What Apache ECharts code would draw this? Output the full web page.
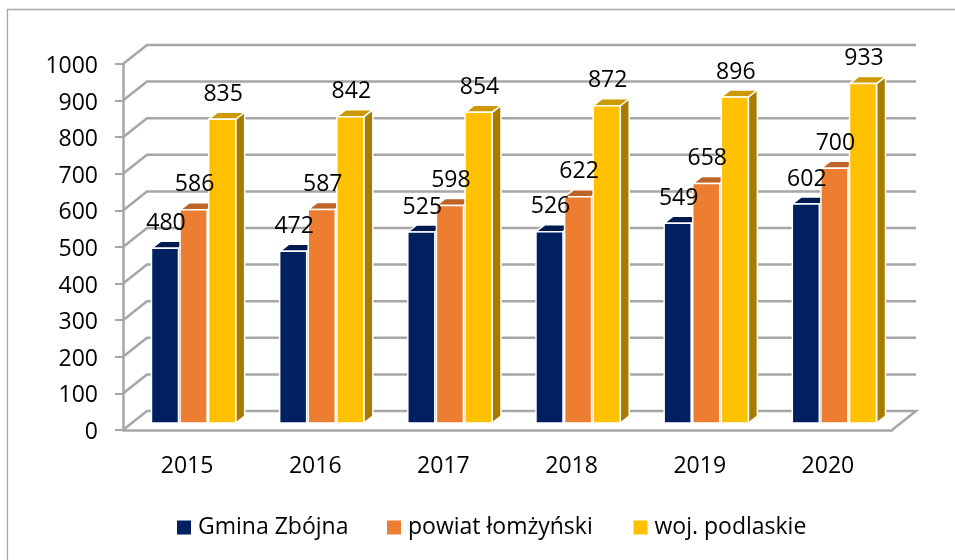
<!DOCTYPE html>
<html>
<head>
<meta charset="utf-8">
<style>
  html, body { margin: 0; padding: 0; background: #fff; overflow: hidden; }
  #chart { width: 955px; height: 560px; }
</style>
</head>
<body>
<div id="chart"></div>
<script src="https://cdn.jsdelivr.net/npm/echarts@6/dist/echarts.min.js"></script>
<script>
const years = ["2015", "2016", "2017", "2018", "2019", "2020"];
const gmina = [480, 472, 525, 526, 549, 602];
const powiat = [586, 587, 598, 622, 658, 700];
const woj = [835, 842, 854, 872, 896, 933];
const yTicks = [0, 100, 200, 300, 400, 500, 600, 700, 800, 900, 1000];
const seriesNames = ["Gmina Zbójna", "powiat łomżyński", "woj. podlaskie"];

const FONT = '"Open Sans"';
const GRID_COLOR = "#A6A6A6";

// 3d look: wall depth and bar depth in pixels
const WALL_DX = 24, WALL_DY = -19;
const BAR_DX = 9, BAR_DY = -7;
const BAR_W = 27, BAR_STEP = 28.6, BAR_SHIFT = 6.5;

function wallItem(params, api) {
  const rect = params.coordSys;
  const y = api.coord([0, api.value(0)])[1];
  const left = rect.x, right = rect.x + rect.width;
  const points = [[left, y], [left + WALL_DX, y + WALL_DY], [right + WALL_DX, y + WALL_DY]];
  if (api.value(0) === 0) points.push([right, y]);
  return {
    type: "polyline",
    shape: { points },
    style: { fill: null, stroke: GRID_COLOR, lineWidth: 2.5 },
  };
}

function barItem(slot, front, top, side) {
  return function (params, api) {
    const idx = api.value(0);
    const val = api.value(1);
    const base = api.coord([idx, 0]);
    const tip = api.coord([idx, val]);
    const cx = base[0] + BAR_SHIFT + slot * BAR_STEP;
    const x0 = cx - BAR_W / 2, x1 = cx + BAR_W / 2;
    const y0 = base[1] + BAR_DY;
    const y1 = y0 + (tip[1] - base[1]) * 0.994;
    const edge = { stroke: "#fff", lineWidth: 1.5, lineJoin: "round" };
    return {
      type: "group",
      children: [
        {
          type: "polygon",
          shape: { points: [[x1, y0], [x1 + BAR_DX, y0 + BAR_DY], [x1 + BAR_DX, y1 + BAR_DY], [x1, y1]] },
          style: { fill: side, ...edge },
        },
        {
          type: "polygon",
          shape: { points: [[x0, y1], [x0 + BAR_DX, y1 + BAR_DY], [x1 + BAR_DX, y1 + BAR_DY], [x1, y1]] },
          style: { fill: top, ...edge },
        },
        {
          type: "rect",
          shape: { x: x0, y: y1, width: BAR_W, height: y0 - y1 },
          style: { fill: front, ...edge },
        },
        {
          type: "text",
          z2: 100,
          style: {
            text: String(val),
            x: cx + 1,
            y: y1 - 25,
            align: "center",
            verticalAlign: "middle",
            fill: "#000",
            font: "23px " + FONT,
          },
        },
      ],
    };
  };
}

function barSeries(name, values, slot, front, top, side) {
  return {
    name,
    type: "custom",
    renderItem: barItem(slot, front, top, side),
    encode: { x: 0, y: 1 },
    itemStyle: { color: front },
    data: values.map((v, i) => [i, v]),
  };
}

// one legend per name so each entry can sit where it does in the picture
function legendAt(name, left) {
  return {
    left,
    top: 511,
    icon: "rect",
    itemWidth: 14,
    itemHeight: 14,
    textStyle: { fontFamily: FONT, fontSize: 23, color: "#000", padding: [0, 0, 0, 2] },
    data: [name],
  };
}

const chart = echarts.init(document.getElementById("chart"), null, { renderer: "canvas" });
chart.setOption({
  animation: false,
  backgroundColor: "#fff",
  textStyle: { fontFamily: FONT },
  graphic: [
    {
      type: "rect",
      silent: true,
      shape: { x: 7.5, y: 9.5, width: 1000, height: 600 },
      style: { fill: null, stroke: "#A6A6A6", lineWidth: 1.3 },
    },
  ],
  grid: { left: 123, right: 63, top: 64, bottom: 130 },
  legend: [
    legendAt(seriesNames[0], 172),
    legendAt(seriesNames[1], 382),
    legendAt(seriesNames[2], 628.5),
  ],
  xAxis: {
    type: "category",
    data: years,
    axisLine: { lineStyle: { color: GRID_COLOR, width: 2.5 } },
    axisTick: { length: 8, lineStyle: { color: GRID_COLOR, width: 2 } },
    axisLabel: { color: "#000", fontSize: 23, fontFamily: FONT, margin: 25 },
  },
  yAxis: {
    type: "value",
    min: 0,
    max: 1000,
    interval: 100,
    splitLine: { show: false },
    axisLine: { show: true, lineStyle: { color: GRID_COLOR, width: 2.5 } },
    axisTick: { show: true, length: 8, lineStyle: { color: GRID_COLOR, width: 2 } },
    axisLabel: {
      fontSize: 23,
      margin: 25,
      formatter: (v) => "{n|" + v + "}",
      rich: {
        n: { color: "#000", fontSize: 23, fontFamily: FONT, padding: [5, 0, 0, 0] },
      },
    },
  },
  series: [
    {
      type: "custom",
      renderItem: wallItem,
      silent: true,
      encode: { y: 0 },
      data: yTicks.map((v) => [v]),
    },
    barSeries(seriesNames[0], gmina, -1, "#002060", "#001A4D", "#001A4D"),
    barSeries(seriesNames[1], powiat, 0, "#ED7D31", "#BE6427", "#BE6427"),
    barSeries(seriesNames[2], woj, 1, "#FFC000", "#CC9A00", "#A67D00"),
  ],
});
</script>
</body>
</html>
